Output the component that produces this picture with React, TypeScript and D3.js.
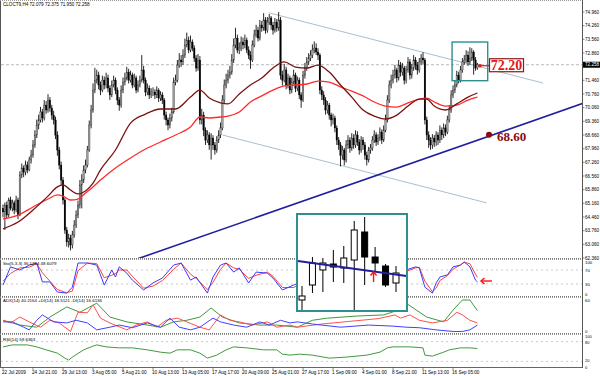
import React from "react";
import * as d3 from "d3";

// ---------- price data (H4 bars) ----------
const firstOpen = 64.9;
const closes = [
  64.72, 65.07, 64.56, 65.33, 64.92, 65.18, 64.82, 65.33, 64.56, 66.61, 66.97, 66.76, 67.12, 66.87, 67.38, 67.63,
  68.15, 68.66, 69.17, 69.43, 69.84, 69.53, 70.19, 69.94, 70.45, 70.04, 69.68, 69.43, 68.66, 67.89, 67.12, 66.35,
  65.33, 63.79, 63.18, 63.38, 63.03, 63.54, 64.05, 64.56, 65.07, 66.1, 66.35, 66.87, 67.12, 67.89, 69.17, 69.94,
  70.96, 71.47, 71.73, 71.22, 70.96, 71.47, 71.22, 71.58, 71.06, 70.71, 71.22, 71.47, 70.96, 70.45, 70.19, 70.96,
  71.37, 71.58, 71.88, 71.47, 71.73, 71.22, 71.58, 70.96, 71.22, 71.47, 71.99, 71.47, 70.86, 71.06, 70.71, 70.86,
  70.86, 70.71, 70.96, 70.55, 70.71, 70.45, 69.68, 69.43, 69.17, 69.53, 69.84, 71.37, 71.47, 72.24, 72.5, 72.4,
  72.75, 73.27, 73.52, 73.01, 73.42, 73.11, 72.6, 72.09, 72.5, 69.43, 69.68, 68.91, 68.4, 68.66, 68.15, 68.5,
  68.15, 67.89, 68.4, 68.66, 69.02, 70.45, 71.22, 71.47, 71.73, 71.88, 72.5, 73.27, 73.62, 73.01, 73.11, 73.42,
  73.27, 73.52, 73.01, 72.75, 72.5, 73.27, 73.78, 74.03, 73.62, 74.29, 74.14, 74.55, 74.03, 74.44, 74.65, 74.29,
  74.03, 74.44, 74.14, 74.55, 71.73, 71.47, 71.99, 71.22, 71.58, 70.96, 71.37, 71.73, 71.06, 71.47, 70.71, 70.45,
  71.73, 72.09, 72.4, 72.6, 72.75, 73.01, 73.11, 72.91, 72.75, 70.96, 70.71, 70.45, 69.94, 70.19, 69.68, 69.43,
  69.53, 69.02, 68.4, 68.15, 67.63, 67.89, 67.38, 68.15, 68.4, 67.99, 68.5, 68.15, 68.66, 68.3, 67.89, 68.4,
  68.15, 67.63, 67.38, 67.89, 67.99, 68.4, 68.66, 68.3, 68.5, 68.81, 68.4, 68.91, 69.43, 70.45, 71.22, 71.47,
  71.73, 71.99, 71.58, 72.24, 71.88, 72.09, 71.47, 71.99, 72.4, 71.73, 72.09, 72.5, 72.24, 71.99, 72.4, 72.6,
  72.5, 69.43, 68.66, 68.4, 68.15, 68.5, 68.3, 68.66, 68.4, 68.91, 68.66, 69.02, 68.81, 69.43, 69.94, 70.71,
  70.96, 71.22, 71.73, 71.47, 71.99, 72.4, 72.5, 72.75, 72.4, 72.6, 72.91, 72.5, 72.09, 72.26,
];
const highs = [
  65.1, 65.2, 65.25, 65.45, 65.5, 65.35, 65.3, 65.55, 65.45, 66.8, 67.2, 67.1, 67.35, 67.3, 67.55, 67.9,
  68.4, 68.9, 69.45, 69.7, 70.1, 70.0, 70.45, 70.4, 70.75, 70.6, 70.2, 69.9, 69.6, 68.85, 68.05, 67.3,
  66.5, 65.45, 63.95, 63.6, 63.55, 63.75, 64.3, 64.8, 65.3, 66.35, 66.65, 67.1, 67.4, 68.1, 69.4, 70.2,
  71.3, 72.1, 72.0, 71.9, 71.4, 71.7, 71.65, 71.85, 71.75, 71.2, 71.45, 71.7, 71.6, 71.1, 70.6, 71.2,
  71.6, 71.85, 72.15, 72.05, 71.95, 71.85, 71.8, 71.7, 71.45, 71.7, 72.75, 72.2, 71.6, 71.3, 71.2, 71.05,
  71.1, 71.0, 71.15, 71.05, 70.9, 70.85, 70.55, 69.85, 69.55, 69.75, 70.05, 71.6, 71.75, 72.5, 72.85, 72.75,
  73.05, 73.6, 73.9, 73.7, 73.75, 73.55, 73.25, 72.75, 72.8, 72.7, 70.0, 69.85, 69.05, 68.9, 68.8, 68.75,
  68.65, 68.3, 68.6, 68.9, 69.3, 70.7, 71.5, 71.8, 72.0, 72.2, 72.8, 73.6, 74.15, 73.8, 73.4, 73.7,
  73.65, 73.8, 73.65, 73.2, 72.95, 73.5, 74.05, 74.3, 74.2, 74.55, 74.5, 74.9, 74.7, 74.7, 74.85, 74.75,
  74.45, 74.65, 74.6, 74.95, 74.7, 71.95, 72.3, 72.15, 71.8, 71.7, 71.6, 72.0, 71.85, 71.65, 71.6, 70.85,
  71.95, 72.35, 72.65, 72.85, 73.0, 73.3, 73.45, 73.35, 73.1, 72.85, 71.15, 70.9, 70.6, 70.4, 70.3, 69.8,
  69.75, 69.65, 69.15, 68.55, 68.3, 68.1, 68.0, 68.4, 68.65, 68.55, 68.75, 68.7, 68.9, 68.85, 68.45, 68.6,
  68.55, 68.3, 67.8, 68.05, 68.2, 68.6, 68.9, 68.8, 68.7, 69.05, 68.95, 69.15, 69.7, 70.7, 71.45, 71.75,
  72.0, 72.25, 72.1, 72.5, 72.4, 72.35, 72.2, 72.2, 72.65, 72.55, 72.3, 72.75, 72.65, 72.4, 72.6, 72.8,
  72.9, 72.6, 69.6, 68.85, 68.55, 68.7, 68.65, 68.85, 68.8, 69.15, 69.05, 69.25, 69.2, 69.65, 70.2, 70.95,
  71.2, 71.45, 71.95, 71.9, 72.2, 72.6, 72.75, 73.0, 72.95, 73.15, 73.1, 73.0, 72.65, 72.35,
];
const lows = [
  64.45, 63.8, 64.4, 64.45, 64.8, 64.75, 64.6, 64.7, 64.35, 64.5, 66.45, 66.5, 66.6, 66.7, 66.8, 67.2,
  67.5, 68.0, 68.5, 68.95, 69.3, 69.3, 69.4, 69.75, 69.8, 69.85, 69.45, 69.2, 68.45, 67.6, 66.9, 66.1,
  65.1, 63.6, 62.95, 62.9, 62.75, 62.85, 63.4, 63.9, 64.4, 64.9, 64.9, 66.2, 66.7, 67.0, 67.8, 69.0,
  69.8, 70.8, 71.3, 71.0, 70.7, 70.85, 71.0, 71.05, 70.85, 70.45, 70.6, 71.1, 70.75, 70.2, 69.9, 70.05,
  70.8, 71.2, 71.45, 71.3, 71.35, 71.05, 71.1, 70.8, 70.85, 71.1, 71.35, 71.3, 70.65, 70.7, 70.5, 70.55,
  70.65, 70.5, 70.55, 70.35, 70.4, 70.25, 69.45, 69.15, 68.9, 69.0, 69.35, 69.75, 71.2, 71.35, 72.1, 72.15,
  72.25, 72.6, 73.15, 72.85, 72.9, 72.95, 72.4, 71.9, 71.95, 69.2, 69.2, 68.6, 68.15, 68.25, 67.9, 67.4,
  67.9, 67.65, 67.75, 68.25, 68.5, 68.9, 70.3, 71.05, 71.3, 71.55, 71.75, 72.35, 73.1, 72.85, 72.8, 72.95,
  73.05, 73.1, 72.85, 72.55, 72.05, 72.4, 73.15, 73.65, 73.45, 73.5, 73.95, 74.0, 73.85, 73.9, 74.3, 74.05,
  73.8, 73.9, 73.95, 74.0, 71.5, 71.2, 71.35, 71.0, 71.05, 70.75, 70.8, 71.25, 70.85, 70.9, 70.5, 70.05,
  70.35, 71.55, 71.95, 72.25, 72.45, 72.6, 72.85, 72.75, 72.5, 70.75, 70.45, 70.2, 69.7, 69.75, 69.45, 69.1,
  69.2, 68.8, 68.15, 67.9, 67.05, 67.4, 67.1, 67.25, 67.95, 67.75, 67.85, 67.95, 68.0, 68.1, 67.65, 67.75,
  67.9, 67.4, 67.1, 67.25, 67.7, 67.85, 68.25, 68.1, 68.15, 68.35, 68.2, 68.3, 68.8, 69.3, 70.3, 71.05,
  71.3, 71.55, 71.35, 71.45, 71.65, 71.7, 71.25, 71.3, 71.85, 71.5, 71.55, 71.95, 72.0, 71.75, 71.85, 72.25,
  72.3, 69.2, 68.4, 68.0, 67.9, 67.95, 68.05, 68.1, 68.15, 68.25, 68.4, 68.5, 68.6, 68.7, 69.3, 69.8,
  70.55, 70.8, 71.1, 71.3, 71.35, 71.85, 72.25, 72.35, 72.2, 72.25, 72.45, 71.75, 71.95, 72.0,
];

// ---------- moving averages (read at sample bars) ----------
const maBars = [0, 8, 16, 24, 29, 32, 36, 40, 44, 48, 52, 60, 68, 76, 84, 92, 100, 105, 110, 116, 120, 126, 132, 138, 144, 150, 156, 162, 168, 174, 180, 186, 192, 198, 204, 210, 216, 222, 226, 230, 236, 242, 248, 253];
const maMaroon = [63.85, 64.2, 64.82, 65.53, 66.0, 66.1, 65.84, 65.64, 65.79, 66.2, 66.87, 67.89, 69.27, 69.73, 69.99, 69.99, 70.6, 70.96, 70.55, 70.3, 70.25, 70.76, 71.22, 71.58, 72.09, 72.4, 72.14, 72.09, 72.24, 71.88, 71.22, 70.6, 69.94, 69.63, 69.48, 69.68, 70.14, 70.5, 70.5, 70.14, 69.94, 70.25, 70.6, 70.81];
const maRed = [64.36, 64.56, 64.97, 65.38, 65.59, 65.53, 65.33, 65.38, 65.69, 66.0, 66.35, 66.97, 67.48, 67.94, 68.3, 68.66, 69.07, 69.58, 69.53, 69.58, 69.63, 69.84, 70.35, 70.66, 70.96, 71.17, 71.22, 71.27, 71.42, 71.37, 71.12, 70.91, 70.66, 70.35, 70.14, 70.09, 70.3, 70.5, 70.55, 70.35, 70.14, 70.19, 70.45, 70.6];

// ---------- trend lines ----------
const upperChannelBars = [142, 288];
const upperChannelPrices = [74.91, 71.32];
const lowerChannelBars = [117, 258];
const lowerChannelPrices = [68.66, 65.18];
const supportBars = [73, 259.2];
const supportPrices = [62.36, 68.6];
const boxBars = [239.5, 258.5];
const boxPrices = [71.44, 73.42];
const currentPrice = 72.258;
const resistanceLabel = "72.20";
const supportLabel = "68.60";

// ---------- Stochastic ----------
const stoBars = [0, 4, 9, 14, 18, 21, 25, 29, 34, 37, 40, 45, 50, 54, 58, 60, 62, 66, 69, 75, 80, 85, 91, 95, 100, 103, 109, 112, 116, 119, 123, 126, 131, 135, 141, 144, 149, 155, 158, 215, 220, 222, 225, 229, 231, 233, 237, 240, 244, 246, 249, 252, 253];
const stoMain = [27, 79, 70, 84, 90, 36, 36, 7, 4, 21, 90, 90, 84, 27, 70, 50, 79, 61, 41, 13, 33, 47, 84, 90, 41, 50, 4, 50, 84, 90, 64, 76, 33, 64, 61, 47, 13, 27, 33, 70, 79, 76, 21, 4, 33, 50, 56, 79, 84, 93, 79, 41, 36];
const stoSignal = [38, 60, 76, 78, 88, 62, 38, 14, 5, 10, 68, 90, 88, 48, 55, 60, 70, 70, 52, 18, 24, 40, 72, 90, 58, 46, 14, 35, 72, 90, 76, 72, 46, 55, 64, 52, 20, 20, 28, 66, 76, 78, 38, 8, 18, 40, 54, 72, 85, 92, 88, 58, 49];
const stoLevels = [70, 30];
const stoTicks = [100, 70, 30, 0];

// ---------- ADX ----------
const adxBars = [0, 9, 18, 25, 34, 41, 50, 57, 66, 77, 84, 91, 98, 105, 111, 117, 126, 137, 146, 157, 165, 173, 189, 203, 210, 215, 226, 235, 240, 245, 249, 253];
const adxValues = [22, 13, 9, 28, 47, 37, 54, 28, 19, 13, 9, 19, 22, 28, 45, 28, 17, 13, 13, 9, 22, 26, 30, 32, 40, 54, 28, 19, 41, 60, 60, 40];
const pdiBars = [0, 5, 11, 14, 18, 21, 27, 34, 39, 45, 50, 57, 62, 69, 77, 84, 89, 94, 100, 105, 112, 116, 123, 130, 137, 142, 148, 153, 157, 165, 180, 195, 208, 215, 222, 231, 240, 245, 249, 253];
const pdiValues = [19, 19, 9, 4, 22, 32, 19, 17, 22, 17, 4, 9, 13, 8, 17, 9, 26, 9, 4, 9, 26, 19, 13, 9, 19, 13, 22, 17, 19, 15, 9, 13, 11, 9, 8, 4, 1, 1, 4, 13];
const mdiBars = [0, 4, 9, 14, 20, 25, 30, 36, 40, 45, 48, 52, 57, 66, 71, 77, 82, 87, 93, 98, 105, 110, 116, 121, 126, 133, 141, 146, 153, 157, 170, 185, 200, 209, 212, 217, 222, 229, 237, 242, 245, 249, 253];
const mdiValues = [22, 17, 28, 19, 9, 22, 17, 1, 37, 36, 51, 26, 17, 4, 13, 19, 9, 22, 26, 19, 9, 4, 32, 22, 19, 13, 19, 9, 13, 9, 15, 20, 25, 32, 26, 32, 22, 17, 22, 37, 32, 22, 17];
const adxTicks = [60, 0];

// ---------- RSI ----------
const rsiBars = [0, 5, 13, 18, 23, 29, 33, 35, 37, 43, 47, 50, 55, 62, 69, 77, 84, 89, 93, 100, 105, 109, 114, 119, 123, 130, 139, 146, 149, 153, 158, 165, 174, 183, 194, 201, 205, 208, 217, 224, 225, 229, 235, 238, 244, 249, 253];
const rsiValues = [64, 70, 70, 64, 55, 45, 30, 24, 33, 55, 64, 70, 64, 61, 61, 55, 48, 45, 55, 55, 45, 30, 39, 55, 64, 61, 55, 55, 42, 39, 42, 39, 30, 33, 39, 48, 61, 64, 64, 61, 39, 36, 48, 55, 61, 61, 59];
const rsiLevels = [80, 20];
const rsiTicks = [100, 80, 20, 0];

// ---------- axes ----------
const priceTicks = [74.96, 74.26, 73.56, 72.86, 71.46, 70.76, 70.06, 69.36, 68.66, 67.96, 67.26, 66.56, 65.86, 65.16, 64.46, 63.76, 63.06, 62.36];
const timeLabels = ["22 Jul 2009", "24 Jul 21:00", "29 Jul 13:00", "3 Aug 05:00", "5 Aug 21:00", "10 Aug 13:00", "13 Aug 05:00", "17 Aug 17:00", "20 Aug 09:00", "25 Aug 01:00", "27 Aug 17:00", "1 Sep 09:00", "4 Sep 01:00", "8 Sep 21:00", "11 Sep 13:00", "16 Sep 05:00"];
const barsPerLabel = 16;
const titleText = "CLOCT9,H4  72.079 72.375 71.950 72.258";
const stoTitle = "Sto(5,3,3) 36.1254 48.6079";
const adxTitle = "ADX(14) 40.2164 +DI(14) 18.5121 -DI(14) 16.6136";
const rsiTitle = "RSI(14) 59.6363";

// ---------- inset (magnified candles) ----------
const insetOpen = [67.51, 67.66, 67.81, 67.87, 67.83, 67.91, 68.19, 67.94, 67.85, 67.68];
const insetClose = [67.55, 67.88, 67.88, 67.84, 67.93, 68.21, 67.94, 67.88, 67.66, 67.78];
const insetHigh = [67.65, 67.94, 67.93, 68.01, 68.05, 68.30, 68.34, 68.04, 67.87, 67.85];
const insetLow = [67.31, 67.58, 67.59, 67.69, 67.68, 67.41, 67.66, 67.79, 67.64, 67.59];
const insetLineBars = [-0.4, 10];
const insetLinePrices = [67.9, 67.75];

const FONT = "'Liberation Sans', Arial, sans-serif";
const SERIF = "'Liberation Serif', 'Times New Roman', serif";

export default function App() {
  const PL = 1, PR = 582;
  const MAIN_T = 1, MAIN_B = 258;
  const STO_T = 260, STO_B = 296;
  const ADX_T = 298, ADX_B = 333;
  const RSI_T = 335, RSI_B = 367;

  const x = d3.scaleLinear().domain([0, closes.length - 1]).range([3, 477.4]);
  const y = d3.scaleLinear().domain([62.36, 75.47]).range([MAIN_B, 2]);
  const ySto = d3.scaleLinear().domain([0, 100]).range([294.5, 259.5]);
  const yAdx = d3.scaleLinear().domain([0, 60]).range([332, 300]);
  const yRsi = d3.scaleLinear().domain([0, 100]).range([368, 335]);

  const path = (bars: number[], vals: number[], ys: any, curve: any = d3.curveLinear) =>
    d3.line<number>().x((_, i) => x(bars[i])).y((v) => ys(v)).curve(curve)(vals) || "";

  const slope = (supportPrices[1] - supportPrices[0]) / (supportBars[1] - supportBars[0]);
  const sx0 = 40, sx1 = 330;
  const sy0 = supportPrices[0] + (sx0 - supportBars[0]) * slope;
  const sy1 = supportPrices[0] + (sx1 - supportBars[0]) * slope;

  const xi = d3.scaleLinear().domain([0, 9]).range([302, 396]);
  const yi = d3.scaleLinear().domain([67.3, 68.4]).range([321, 211]);

  const clampLabel = (v: number, t: number, b: number) => Math.min(Math.max(v, t + 2), b - 2);

  const sep = (yy: number) => (
    <g key={"sep" + yy}>
      <line x1={0} x2={PR} y1={yy - 0.5} y2={yy - 0.5} stroke="#777" strokeWidth={1} strokeDasharray="1,1" />
      <line x1={0} x2={PR} y1={yy + 0.5} y2={yy + 0.5} stroke="#999" strokeWidth={1} strokeDasharray="1,1" />
    </g>
  );

  const calloutY = y(currentPrice);
  const dotX = x(supportBars[1]);
  const dotY = y(supportPrices[1]);

  const rsiLabelY = (v: number) => (v === 100 ? 337 : v === 0 ? 367.5 : v === 20 ? 360.5 : yRsi(v) + 0.5);

  return (
    <svg width={600} height={376} style={{ position: "absolute", left: 0, top: 0, background: "#fff" }} fontFamily={FONT}>
      <defs>
        <clipPath id="mainClip"><rect x={PL} y={MAIN_T} width={PR - PL} height={MAIN_B - MAIN_T} /></clipPath>
        <clipPath id="stoClip"><rect x={PL} y={STO_T} width={PR - PL} height={STO_B - STO_T} /></clipPath>
        <clipPath id="adxClip"><rect x={PL} y={ADX_T} width={PR - PL} height={ADX_B - ADX_T} /></clipPath>
        <clipPath id="rsiClip"><rect x={PL} y={RSI_T} width={PR - PL} height={RSI_B - RSI_T} /></clipPath>
        <clipPath id="insetClip"><rect x={297} y={214} width={110} height={97} /></clipPath>
      </defs>
      <rect x={0} y={0} width={600} height={376} fill="#fff" />

      {/* frame */}
      <line x1={0.5} x2={0.5} y1={0} y2={RSI_B} stroke="#555" />
      <line x1={0} x2={PR} y1={0.5} y2={0.5} stroke="#999" strokeDasharray="1,1" />
      <line x1={PR + 0.5} x2={PR + 0.5} y1={0} y2={RSI_B + 1} stroke="#555" />
      {sep(259)}
      {sep(297)}
      {sep(334)}
      <line x1={0} x2={PR} y1={RSI_B + 0.5} y2={RSI_B + 0.5} stroke="#666" />

      {/* ---- main panel ---- */}
      <g clipPath="url(#mainClip)">
        <line x1={PL} x2={PR} y1={y(currentPrice)} y2={y(currentPrice)} stroke="#a8a8a8" strokeWidth={0.8} strokeDasharray="3,2" />
        <line x1={x(upperChannelBars[0])} y1={y(upperChannelPrices[0])} x2={x(upperChannelBars[1])} y2={y(upperChannelPrices[1])} stroke="#a9bfd0" strokeWidth={1} />
        <line x1={x(lowerChannelBars[0])} y1={y(lowerChannelPrices[0])} x2={x(lowerChannelBars[1])} y2={y(lowerChannelPrices[1])} stroke="#a9bfd0" strokeWidth={1} />
        {closes.map((c, i) => {
          const o = i === 0 ? firstOpen : closes[i - 1];
          const up = c >= o;
          const cx = x(i);
          const top = y(Math.max(o, c));
          const bot = y(Math.min(o, c));
          return (
            <g key={i}>
              <line x1={cx} x2={cx} y1={y(highs[i])} y2={y(lows[i])} stroke="#111" strokeWidth={0.9} />
              <rect x={cx - 0.75} y={top} width={1.5} height={Math.max(bot - top, 0.6)} fill={up ? "#a0a0a0" : "#000"} stroke={up ? "#333" : "#000"} strokeWidth={0.35} />
            </g>
          );
        })}
        <path d={path(maBars, maRed, y, d3.curveMonotoneX)} fill="none" stroke="#ff2a2a" strokeWidth={1.3} />
        <path d={path(maBars, maMaroon, y, d3.curveMonotoneX)} fill="none" stroke="#7a1010" strokeWidth={1.3} />
        <line x1={x(sx0)} y1={y(sy0)} x2={x(sx1)} y2={y(sy1)} stroke="#1f1f9e" strokeWidth={1.6} />
        <rect x={x(boxBars[0])} y={y(boxPrices[1])} width={x(boxBars[1]) - x(boxBars[0])} height={y(boxPrices[0]) - y(boxPrices[1])} fill="none" stroke="#2f8f8f" strokeWidth={1.4} />
        {/* 72.20 callout */}
        <line x1={480} x2={489} y1={calloutY + 1} y2={calloutY + 1} stroke="#e01515" strokeWidth={1.2} />
        <circle cx={480} cy={calloutY + 1} r={1.8} fill="#e01515" />
        <rect x={489.5} y={calloutY - 6} width={34} height={13} fill="#fff" stroke="#8b1a1a" strokeWidth={1.2} />
        <text x={506.5} y={calloutY + 5} textAnchor="middle" fontFamily={SERIF} fontWeight="bold" fontSize={14} fill="#e01515">{resistanceLabel}</text>
        {/* 68.60 marker */}
        <circle cx={dotX} cy={dotY - 1.5} r={3} fill="#8b0a0a" />
        <text x={497} y={dotY + 5} fontFamily={SERIF} fontWeight="bold" fontSize={13} fill="#8b0a0a">{supportLabel}</text>
      </g>
      <text x={3} y={6} fontSize={4.6} fill="#000">{titleText}</text>

      {/* ---- stochastic ---- */}
      <g clipPath="url(#stoClip)">
        {stoLevels.map((lv) => (
          <line key={lv} x1={PL} x2={PR} y1={ySto(lv)} y2={ySto(lv)} stroke="#bbb" strokeWidth={0.8} strokeDasharray="2,3" />
        ))}
        <path d={path(stoBars, stoSignal, ySto)} fill="none" stroke="#ff4040" strokeWidth={1} />
        <path d={path(stoBars, stoMain, ySto)} fill="none" stroke="#3a3aff" strokeWidth={1} />
      </g>
      <text x={3} y={265} fontSize={4.4} fill="#000">{stoTitle}</text>
      <g stroke="#ff1010" strokeWidth={1.4} fill="none">
        <line x1={481} x2={492} y1={281} y2={281} />
        <path d="M484.5,278 L481,281 L484.5,284" />
      </g>

      {/* ---- ADX ---- */}
      <g clipPath="url(#adxClip)">
        <path d={path(adxBars, adxValues, yAdx)} fill="none" stroke="#3c9a3c" strokeWidth={1} />
        <path d={path(mdiBars, mdiValues, yAdx)} fill="none" stroke="#ff5050" strokeWidth={1} />
        <path d={path(pdiBars, pdiValues, yAdx)} fill="none" stroke="#4040ff" strokeWidth={1} />
      </g>
      <text x={3} y={302} fontSize={4.4} fill="#000">{adxTitle}</text>

      {/* ---- RSI ---- */}
      <g clipPath="url(#rsiClip)">
        {rsiLevels.map((lv) => (
          <line key={lv} x1={PL} x2={PR} y1={yRsi(lv)} y2={yRsi(lv)} stroke="#bbb" strokeWidth={0.8} strokeDasharray="2,3" />
        ))}
        <path d={path(rsiBars, rsiValues, yRsi)} fill="none" stroke="#3f9a3f" strokeWidth={1} />
      </g>
      <text x={3} y={341} fontSize={4.4} fill="#000">{rsiTitle}</text>

      {/* ---- inset ---- */}
      <rect x={297} y={214} width={110} height={97} fill="#fff" />
      <g clipPath="url(#insetClip)">
        {insetClose.map((c, i) => {
          const o = insetOpen[i];
          const up = c >= o;
          const cx = xi(i);
          const top = yi(Math.max(o, c));
          const bot = yi(Math.min(o, c));
          return (
            <g key={i}>
              <line x1={cx} x2={cx} y1={yi(insetHigh[i])} y2={yi(insetLow[i])} stroke="#000" strokeWidth={1} />
              <rect x={cx - 3} y={top} width={6} height={Math.max(bot - top, 1)} fill={up ? "#fff" : "#000"} stroke="#000" strokeWidth={1} />
            </g>
          );
        })}
        <line x1={xi(insetLineBars[0])} y1={yi(insetLinePrices[0])} x2={xi(insetLineBars[1])} y2={yi(insetLinePrices[1])} stroke="#1f1f9e" strokeWidth={1.8} />
        <g stroke="#ff1010" strokeWidth={1.4} fill="none">
          <line x1={xi(6.85)} x2={xi(6.85)} y1={282} y2={272} />
          <path d={`M${xi(6.85) - 3},275.5 L${xi(6.85)},272 L${xi(6.85) + 3},275.5`} />
        </g>
      </g>
      <rect x={297} y={214} width={110} height={97} fill="none" stroke="#2f8f8f" strokeWidth={2} />

      {/* ---- right price axis ---- */}
      {priceTicks.map((p) => (
        <g key={p}>
          <line x1={PR + 0.5} x2={PR + 2.5} y1={y(p)} y2={y(p)} stroke="#555" strokeWidth={0.7} />
          <text x={585} y={y(p)} dy="0.35em" fontSize={4.6} fill="#000">{p.toFixed(3)}</text>
        </g>
      ))}
      <rect x={583} y={y(currentPrice) - 3} width={17} height={6} fill="#000" />
      <text x={585} y={y(currentPrice)} dy="0.35em" fontSize={4.6} fill="#fff">{currentPrice.toFixed(3)}</text>

      {stoTicks.map((v) => (
        <text key={"s" + v} x={585} y={clampLabel(ySto(v), STO_T, STO_B)} dy="0.35em" fontSize={4.3} fill="#000">{v}</text>
      ))}
      {adxTicks.map((v) => (
        <text key={"a" + v} x={585} y={clampLabel(yAdx(v), ADX_T, ADX_B)} dy="0.35em" fontSize={4.3} fill="#000">{v}</text>
      ))}
      {rsiTicks.map((v) => (
        <text key={"r" + v} x={585} y={rsiLabelY(v)} dy="0.35em" fontSize={4.0} fill="#000">{v}</text>
      ))}

      {/* ---- time axis ---- */}
      {timeLabels.map((t, k) => {
        const tx = x(k * barsPerLabel);
        return (
          <g key={t}>
            <line x1={tx} x2={tx} y1={RSI_B} y2={RSI_B + 3} stroke="#555" strokeWidth={0.7} />
            <text x={tx - 1} y={373.5} fontSize={4.6} fill="#000">{t}</text>
          </g>
        );
      })}
    </svg>
  );
}
